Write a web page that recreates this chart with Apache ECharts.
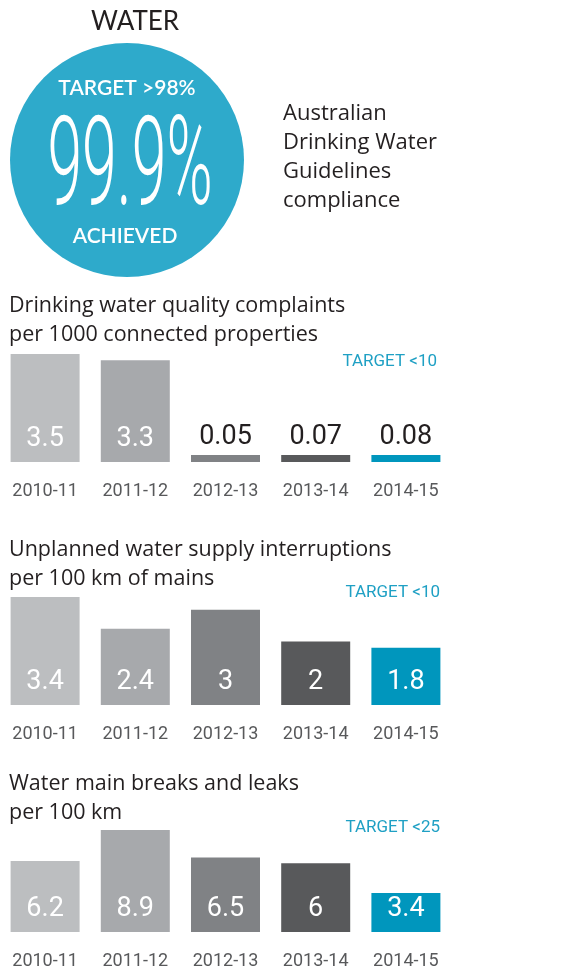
<!DOCTYPE html>
<html>
<head>
<meta charset="utf-8">
<script src="https://cdn.jsdelivr.net/npm/echarts@6/dist/echarts.min.js"></script>
<style>
html,body{margin:0;padding:0;background:#fff;}
#chart{width:583px;height:974px;}
</style>
</head>
<body>
<div id="chart"></div>
<script>
// data
var years = ['2010-11', '2011-12', '2012-13', '2013-14', '2014-15'];
var complaints = [3.5, 3.3, 0.05, 0.07, 0.08];
var interruptions = [3.4, 2.4, 3, 2, 1.8];
var breaks = [6.2, 8.9, 6.5, 6, 3.4];
var titles = [
    'Drinking water quality complaints\nper 1000 connected properties',
    'Unplanned water supply interruptions\nper 100 km of mains',
    'Water main breaks and leaks\nper 100 km'
];
var targets = ['TARGET <10', 'TARGET <10', 'TARGET <25'];
var compliance = '99.9%';
var complianceTarget = 'TARGET >98%';
var complianceNote = 'Australian\nDrinking Water\nGuidelines\ncompliance';

var barColors = ['#bcbec0', '#a7a9ac', '#808285', '#58595b', '#0096bd'];
var num = 'Roboto, "Liberation Sans", sans-serif';
var sans = '"Open Sans", "Noto Sans", sans-serif';

var myChart = echarts.init(document.getElementById('chart'));

// layout of the three small charts
var blocks = [
    {values: complaints, top: 354, height: 108, max: 3.5, title: 291.5, target: 362, tx: 437},
    {values: interruptions, top: 597, height: 108, max: 3.4, title: 535.5, target: 593, tx: 440},
    {values: breaks, top: 830, height: 102, max: 8.9, title: 769.5, target: 828, tx: 440}
];

function barData(values, max) {
    return values.map(function (v, i) {
        var small = v / max < 0.2; // too thin for a label inside
        return {
            value: v,
            itemStyle: {color: barColors[i]},
            label: small ? {
                position: 'top',
                distance: 4,
                color: '#231f20'
            } : {
                position: 'insideBottom',
                distance: 9,
                color: '#fff'
            }
        };
    });
}

var grid = [], xAxis = [], yAxis = [], series = [], title = [];
var graphic = [
    {type: 'circle', shape: {cx: 127, cy: 160, r: 117}, style: {fill: '#2eaacb'}},
    {type: 'text', x: 135, y: 22, style: {text: 'WATER', font: '400 26px Lato, sans-serif', fill: '#231f20', align: 'center', verticalAlign: 'middle', textAlign: 'center', textVerticalAlign: 'middle'}},
    {type: 'text', x: 127, y: 88, style: {text: complianceTarget, font: '600 21px Lato, sans-serif', fill: '#fff', align: 'center', verticalAlign: 'middle', textAlign: 'center', textVerticalAlign: 'middle'}},
    {type: 'text', x: 130, y: 173, scaleX: 0.5, style: {text: compliance, font: '300 125px Roboto, sans-serif', fill: '#fff', align: 'center', verticalAlign: 'middle', textAlign: 'center', textVerticalAlign: 'middle'}},
    {type: 'text', x: 125, y: 236, style: {text: 'ACHIEVED', font: '600 21px Lato, sans-serif', fill: '#fff', align: 'center', verticalAlign: 'middle', textAlign: 'center', textVerticalAlign: 'middle'}},
    {type: 'text', x: 283, y: 99.5, style: {text: complianceNote, font: '400 22px ' + sans, lineHeight: 29, fill: '#231f20', align: 'left', verticalAlign: 'top', textAlign: 'left', textVerticalAlign: 'top'}}
];

blocks.forEach(function (b, k) {
    grid.push({left: -3, width: 454, top: b.top, height: b.height});
    xAxis.push({
        type: 'category',
        gridIndex: k,
        data: years,
        axisLine: {show: false},
        axisTick: {show: false},
        axisLabel: {
            interval: 0,
            margin: 20,
            color: '#58595b',
            fontFamily: num,
            fontSize: 18
        }
    });
    yAxis.push({type: 'value', gridIndex: k, min: 0, max: b.max, show: false});
    series.push({
        type: 'bar',
        xAxisIndex: k,
        yAxisIndex: k,
        barWidth: 69,
        barMinHeight: k === 0 ? 7 : 0,
        data: barData(b.values, b.max),
        label: {
            show: true,
            fontFamily: num,
            fontSize: 27
        },
        animation: false
    });
    title.push({
        text: titles[k],
        left: 9,
        top: b.title,
        padding: 0,
        textStyle: {
            fontFamily: sans,
            fontWeight: 'normal',
            fontSize: 21.5,
            lineHeight: 29,
            color: '#231f20'
        }
    });
    graphic.push({
        type: 'text', x: b.tx, y: b.target,
        style: {text: targets[k], font: '400 17px ' + num, fill: '#1fa0c4', align: 'right', verticalAlign: 'middle', textAlign: 'right', textVerticalAlign: 'middle'}
    });
});

var option = {
    animation: false,
    title: title,
    grid: grid,
    xAxis: xAxis,
    yAxis: yAxis,
    series: series,
    graphic: graphic
};
myChart.setOption(option);
</script>
</body>
</html>
